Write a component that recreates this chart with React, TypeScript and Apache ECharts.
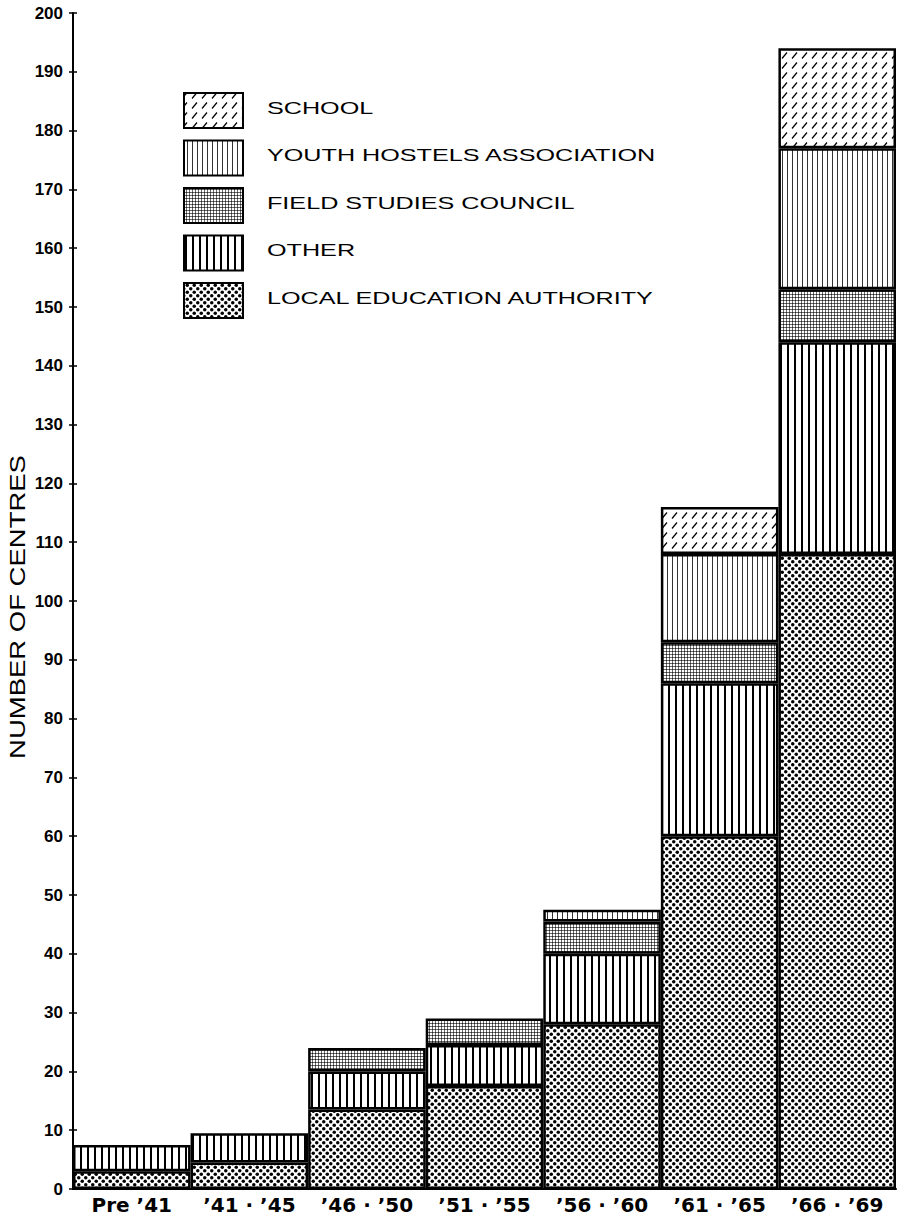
import React, { useEffect, useRef } from "react";
import * as echarts from "echarts";

// ---------- data ----------
const categories = ["Pre ’41", "’41 · ’45", "’46 · ’50", "’51 · ’55", "’56 · ’60", "’61 · ’65", "’66 · ’69"];
const leaValues = [3, 4.5, 13.5, 17.5, 28, 60, 108];
const otherValues = [4.5, 5, 6.5, 7, 12, 26, 36];
const fscValues = [null, null, 4, 4.5, 5.5, 7, 9];
const yhaValues = [null, null, null, null, 2, 15, 24];
const schoolValues = [null, null, null, null, null, 8, 17];
const seriesNames = [
  "LOCAL EDUCATION AUTHORITY",
  "OTHER",
  "FIELD STUDIES COUNCIL",
  "YOUTH HOSTELS ASSOCIATION",
  "SCHOOL",
];
const legendOrder = [
  "SCHOOL",
  "YOUTH HOSTELS ASSOCIATION",
  "FIELD STUDIES COUNCIL",
  "OTHER",
  "LOCAL EDUCATION AUTHORITY",
];
const yAxisTitle = "NUMBER OF CENTRES";
const yMin = 0;
const yMax = 200;
const yInterval = 10;

// ---------- patterns ----------
function makeCanvas(w: number, h: number, draw: (ctx: CanvasRenderingContext2D) => void) {
  const c = document.createElement("canvas");
  c.width = w;
  c.height = h;
  const ctx = c.getContext("2d")!;
  ctx.fillStyle = "#fff";
  ctx.fillRect(0, 0, w, h);
  draw(ctx);
  return c;
}

function pattern(c: HTMLCanvasElement): any {
  return { image: c, repeat: "repeat", imageWidth: c.width, imageHeight: c.height };
}

function buildPatterns(): Record<string, any> {
  const dots = makeCanvas(7, 7, (ctx) => {
    ctx.fillStyle = "#000";
    ctx.beginPath();
    ctx.arc(1.75, 1.75, 1.75, 0, Math.PI * 2);
    ctx.fill();
    ctx.beginPath();
    ctx.arc(5.25, 5.25, 1.75, 0, Math.PI * 2);
    ctx.fill();
  });
  const vlines = makeCanvas(7, 7, (ctx) => {
    ctx.fillStyle = "#000";
    ctx.fillRect(3, 0, 2, 7);
  });
  const stipple = makeCanvas(3, 3, (ctx) => {
    ctx.fillStyle = "#6a6a6a";
    ctx.fillRect(0, 0, 3, 1);
    ctx.fillRect(0, 0, 1, 3);
    ctx.fillStyle = "#222";
    ctx.fillRect(0, 0, 1, 1);
  });
  const fineLines = makeCanvas(5, 5, (ctx) => {
    ctx.fillStyle = "#333";
    ctx.fillRect(2, 0, 1, 5);
  });
  const slashes = makeCanvas(10, 10, (ctx) => {
    ctx.strokeStyle = "#000";
    ctx.lineWidth = 1.2;
    ctx.beginPath();
    ctx.moveTo(2, 8.5);
    ctx.lineTo(7, 2.5);
    ctx.stroke();
  });
  return {
    "LOCAL EDUCATION AUTHORITY": pattern(dots),
    OTHER: pattern(vlines),
    "FIELD STUDIES COUNCIL": pattern(stipple),
    "YOUTH HOSTELS ASSOCIATION": pattern(fineLines),
    SCHOOL: pattern(slashes),
  };
}

export default function App() {
  const ref = useRef<HTMLDivElement>(null);

  useEffect(() => {
    if (!ref.current) return;
    const chart = echarts.init(ref.current, undefined, { renderer: "svg" });
    const patterns = buildPatterns();
    const valuesByName: Record<string, any[]> = {
      "LOCAL EDUCATION AUTHORITY": leaValues,
      OTHER: otherValues,
      "FIELD STUDIES COUNCIL": fscValues,
      "YOUTH HOSTELS ASSOCIATION": yhaValues,
      SCHOOL: schoolValues,
    };

    const legendTop = 93;
    const legendStep = 47.5;
    const legendGraphics: any[] = [];
    legendOrder.forEach((name, i) => {
      const top = legendTop + i * legendStep;
      legendGraphics.push({
        type: "rect",
        shape: { x: 184, y: top, width: 59, height: 35 },
        style: { fill: patterns[name], stroke: "#000", lineWidth: 2 },
        z: 10,
      });
      legendGraphics.push({
        type: "text",
        x: 267,
        y: top + 15,
        scaleX: 1.48,
        style: {
          text: name,
          fontSize: 17,
          fontFamily: "Liberation Sans",
          fill: "#000",
          align: "left",
          verticalAlign: "middle",
        },
        z: 10,
      });
    });

    const option: any = {
      animation: false,
      backgroundColor: "#fff",
      grid: { left: 73, right: 2, top: 13, bottom: 33, containLabel: false },
      xAxis: {
        type: "category",
        data: categories,
        axisLine: { show: true, lineStyle: { color: "#000", width: 2 } },
        axisTick: { show: false },
        axisLabel: {
          color: "#000",
          fontFamily: "DejaVu Sans",
          fontWeight: "bold",
          fontSize: 20,
          margin: 6,
          interval: 0,
        },
      },
      yAxis: [
        {
          type: "value",
          min: yMin,
          max: yMax,
          interval: yInterval,
          axisLine: { show: true, lineStyle: { color: "#000", width: 2 } },
          axisTick: { show: true, length: 4, lineStyle: { color: "#000", width: 1.5 } },
          axisLabel: {
            color: "#000",
            fontFamily: "Liberation Sans",
            fontWeight: "bold",
            fontSize: 17,
            margin: 10,
          },
          splitLine: { show: false },
        },
        {
          type: "value",
          position: "left",
          min: yMin,
          max: yMax,
          interval: yInterval,
          axisLine: { show: false },
          axisTick: { show: true, inside: true, length: 4, lineStyle: { color: "#000", width: 1.5 } },
          axisLabel: { show: false },
          splitLine: { show: false },
        },
      ],
      series: seriesNames.map((name) => ({
        name,
        type: "bar",
        stack: "total",
        data: valuesByName[name],
        barWidth: "100%",
        barCategoryGap: 0,
        itemStyle: {
          color: patterns[name],
          borderColor: "#000",
          borderWidth: 2.5,
        },
        emphasis: { disabled: true },
      })),
      graphic: [
        ...legendGraphics,
        {
          type: "text",
          x: 17,
          y: 607,
          rotation: Math.PI / 2,
          scaleX: 1.25,
          style: {
            text: yAxisTitle,
            fontSize: 22,
            fontFamily: "Liberation Sans",
            fill: "#000",
            align: "center",
            verticalAlign: "middle",
          },
        },
      ],
    };
    chart.setOption(option);
    return () => {
      chart.dispose();
    };
  }, []);

  return (
    <div
      ref={ref}
      style={{ position: "fixed", left: 0, top: 0, width: 898, height: 1222, background: "#fff" }}
    />
  );
}
